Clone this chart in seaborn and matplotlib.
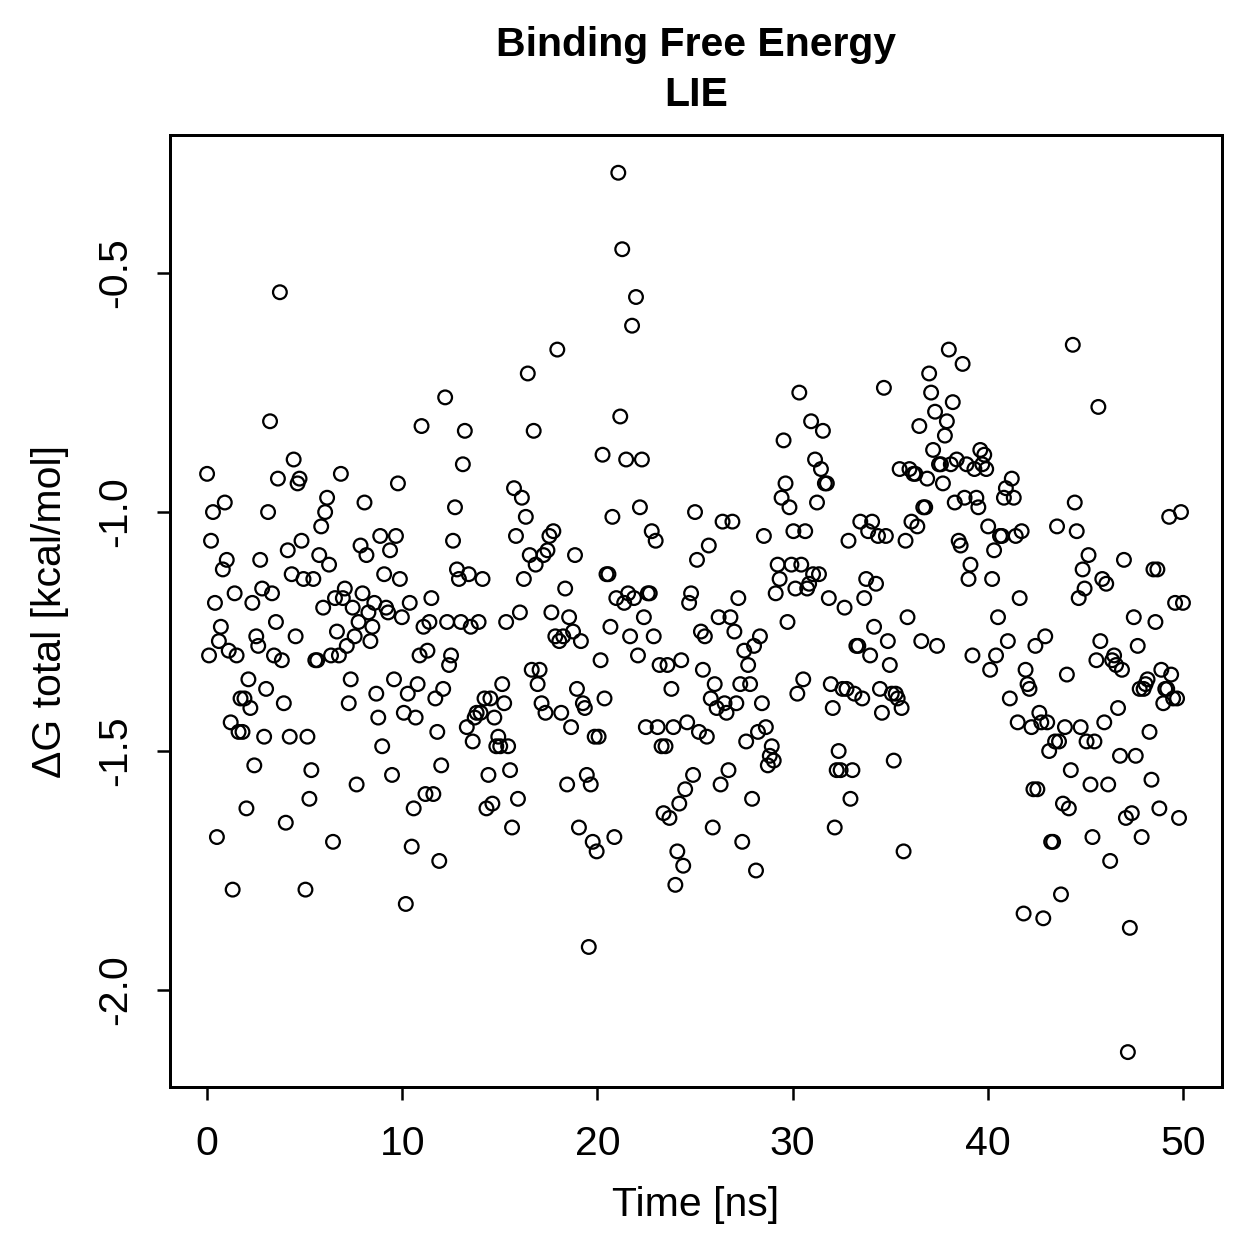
import numpy as np
import pandas as pd
import seaborn as sns
import matplotlib.pyplot as plt

# Delta G total (kcal/mol), in time order
dg = [
    -0.92, -1.30, -1.06, -1.00, -1.19, -1.68, -1.27, -1.24, -1.12, -0.98, -1.10, -1.29, -1.44, -1.79, -1.17, -1.30,
    -1.46, -1.39, -1.46, -1.39, -1.62, -1.35, -1.41, -1.19, -1.53, -1.26, -1.28, -1.10, -1.16, -1.47, -1.37, -1.00,
    -0.81, -1.17, -1.30, -1.23, -0.93, -0.54, -1.31, -1.40, -1.65, -1.08, -1.47, -1.13, -0.89, -1.26, -0.94, -0.93,
    -1.06, -1.14, -1.79, -1.47, -1.60, -1.54, -1.14, -1.31, -1.31, -1.09, -1.03, -1.20, -1.00, -0.97, -1.11, -1.30,
    -1.69, -1.18, -1.25, -1.30, -0.92, -1.18, -1.16, -1.28, -1.40, -1.35, -1.20, -1.26, -1.57, -1.23, -1.07, -1.17,
    -0.98, -1.09, -1.21, -1.27, -1.24, -1.19, -1.38, -1.43, -1.05, -1.49, -1.13, -1.20, -1.21, -1.08, -1.55, -1.35,
    -1.05, -0.94, -1.14, -1.22, -1.42, -1.82, -1.38, -1.19, -1.70, -1.62, -1.43, -1.36, -1.30, -0.82, -1.24, -1.59,
    -1.29, -1.23, -1.18, -1.59, -1.39, -1.46, -1.73, -1.53, -1.37, -0.76, -1.23, -1.32, -1.30, -1.06, -0.99, -1.12,
    -1.14, -1.23, -0.90, -0.83, -1.45, -1.13, -1.24, -1.48, -1.43, -1.42, -1.23, -1.42, -1.14, -1.39, -1.62, -1.55,
    -1.39, -1.61, -1.43, -1.49, -1.47, -1.49, -1.36, -1.40, -1.23, -1.49, -1.54, -1.66, -0.95, -1.05, -1.60, -1.21,
    -0.97, -1.14, -1.01, -0.71, -1.09, -1.33, -0.83, -1.11, -1.36, -1.33, -1.40, -1.09, -1.42, -1.08, -1.05, -1.21,
    -1.04, -1.26, -0.66, -1.27, -1.42, -1.26, -1.16, -1.57, -1.22, -1.45, -1.25, -1.09, -1.37, -1.66, -1.27, -1.40,
    -1.41, -1.55, -1.91, -1.57, -1.69, -1.47, -1.71, -1.47, -1.31, -0.88, -1.39, -1.13, -1.13, -1.24, -1.01, -1.68,
    -1.18, -0.29, -0.80, -0.45, -1.19, -0.89, -1.17, -1.26, -0.61, -1.18, -0.55, -1.30, -0.99, -0.89, -1.22, -1.45,
    -1.17, -1.17, -1.04, -1.26, -1.06, -1.45, -1.32, -1.49, -1.63, -1.49, -1.32, -1.64, -1.37, -1.45, -1.78, -1.71,
    -1.61, -1.31, -1.74, -1.58, -1.44, -1.19, -1.17, -1.55, -1.00, -1.10, -1.46, -1.25, -1.33, -1.26, -1.47, -1.07,
    -1.39, -1.66, -1.36, -1.41, -1.22, -1.57, -1.02, -1.40, -1.42, -1.54, -1.22, -1.02, -1.25, -1.40, -1.18, -1.36,
    -1.69, -1.29, -1.48, -1.32, -1.36, -1.60, -1.28, -1.75, -1.46, -1.26, -1.40, -1.05, -1.45, -1.53, -1.51, -1.49,
    -1.52, -1.17, -1.11, -1.14, -0.97, -0.85, -0.94, -1.23, -0.99, -1.11, -1.04, -1.16, -1.38, -0.75, -1.11, -1.35,
    -1.04, -1.16, -1.15, -0.81, -1.13, -0.89, -0.98, -1.13, -0.91, -0.83, -0.94, -0.94, -1.18, -1.36, -1.41, -1.66,
    -1.54, -1.50, -1.54, -1.37, -1.20, -1.37, -1.06, -1.60, -1.54, -1.38, -1.28, -1.28, -1.02, -1.39, -1.18, -1.14,
    -1.04, -1.30, -1.02, -1.24, -1.15, -1.05, -1.37, -1.42, -0.74, -1.05, -1.27, -1.32, -1.38, -1.52, -1.38, -1.39,
    -0.91, -1.41, -1.71, -1.06, -1.22, -0.91, -1.02, -0.92, -0.92, -1.03, -0.82, -1.27, -0.99, -0.99, -0.93, -0.71,
    -0.75, -0.87, -0.79, -1.28, -0.90, -0.90, -0.94, -0.84, -0.81, -0.66, -0.90, -0.77, -0.98, -0.89, -1.06, -1.07,
    -0.69, -0.97, -0.90, -1.14, -1.11, -1.30, -0.91, -0.97, -0.99, -0.87, -0.90, -0.88, -0.91, -1.03, -1.33, -1.14,
    -1.08, -1.30, -1.22, -1.05, -1.05, -0.97, -0.95, -1.27, -1.39, -0.93, -0.97, -1.05, -1.44, -1.18, -1.04, -1.84,
    -1.33, -1.36, -1.37, -1.45, -1.58, -1.28, -1.58, -1.42, -1.44, -1.85, -1.26, -1.44, -1.50, -1.69, -1.69, -1.48,
    -1.03, -1.48, -1.80, -1.61, -1.45, -1.34, -1.62, -1.54, -0.65, -0.98, -1.04, -1.18, -1.45, -1.12, -1.16, -1.48,
    -1.09, -1.57, -1.68, -1.48, -1.31, -0.78, -1.27, -1.14, -1.44, -1.15, -1.57, -1.73, -1.31, -1.30, -1.32, -1.41,
    -1.51, -1.33, -1.10, -1.64, -2.13, -1.87, -1.63, -1.22, -1.51, -1.28, -1.37, -1.68, -1.37, -1.36, -1.35, -1.46,
    -1.56, -1.12, -1.23, -1.12, -1.62, -1.33, -1.40, -1.37, -1.37, -1.01, -1.34, -1.39, -1.19, -1.39, -1.64, -1.00,
    -1.19,
]

# simulation frames are sampled evenly over 0-50 ns
t_start, t_end = 0.0, 50.0
time_ns = np.linspace(t_start, t_end, len(dg))

x_ticks = [0, 10, 20, 30, 40, 50]
y_ticks = [-2.0, -1.5, -1.0, -0.5]
y_tick_labels = ["-2.0", "-1.5", "-1.0", "-0.5"]

title_lines = ["Binding Free Energy", "LIE"]
x_label = "Time [ns]"
y_label = "\u0394G total [kcal/mol]"

df = pd.DataFrame({"time": time_ns, "dg": dg})

sns.set_theme(style="ticks")
plt.rcParams["font.family"] = ["Liberation Sans", "DejaVu Sans"]
plt.rcParams["axes.unicode_minus"] = False
plt.rcParams["text.color"] = "black"
plt.rcParams["axes.labelcolor"] = "black"

W = 1259
fig = plt.figure(figsize=(W / 180, W / 180), dpi=180)
L, R, T, B = 170, 1222, 135, 1087
ax = fig.add_axes([L / W, 1 - B / W, (R - L) / W, (B - T) / W])

sns.scatterplot(data=df, x="time", y="dg", ax=ax, marker="o", s=30,
                facecolors="none", edgecolor="black", linewidth=0.9, legend=False)

ax.set_xlim(-1.9, 52.0)
ax.set_ylim(-2.203, -0.211)
ax.set_xticks(x_ticks)
ax.set_xticklabels([str(v) for v in x_ticks])
ax.set_yticks(y_ticks)
ax.set_yticklabels(y_tick_labels, rotation=90, va="center")

ax.tick_params(axis="both", direction="out", length=5.2, width=1.0,
               labelsize=16.4, colors="black")
ax.tick_params(axis="x", pad=10)
ax.tick_params(axis="y", pad=9)
for sp in ax.spines.values():
    sp.set_visible(True)
    sp.set_linewidth(1.2)
    sp.set_color("black")

ax.set_xlabel(x_label, fontsize=16.4, color="black", labelpad=9)
ax.set_ylabel(y_label, fontsize=16.4, color="black", labelpad=11)

cx = (L + R) / 2 / W
fig.text(cx, 1 - 45 / W, title_lines[0], ha="center", va="center",
         fontsize=16.4, fontweight="bold", color="black")
fig.text(cx, 1 - 95 / W, title_lines[1], ha="center", va="center",
         fontsize=16.4, fontweight="bold", color="black")

fig.savefig("out.png", dpi=180, facecolor="white")
